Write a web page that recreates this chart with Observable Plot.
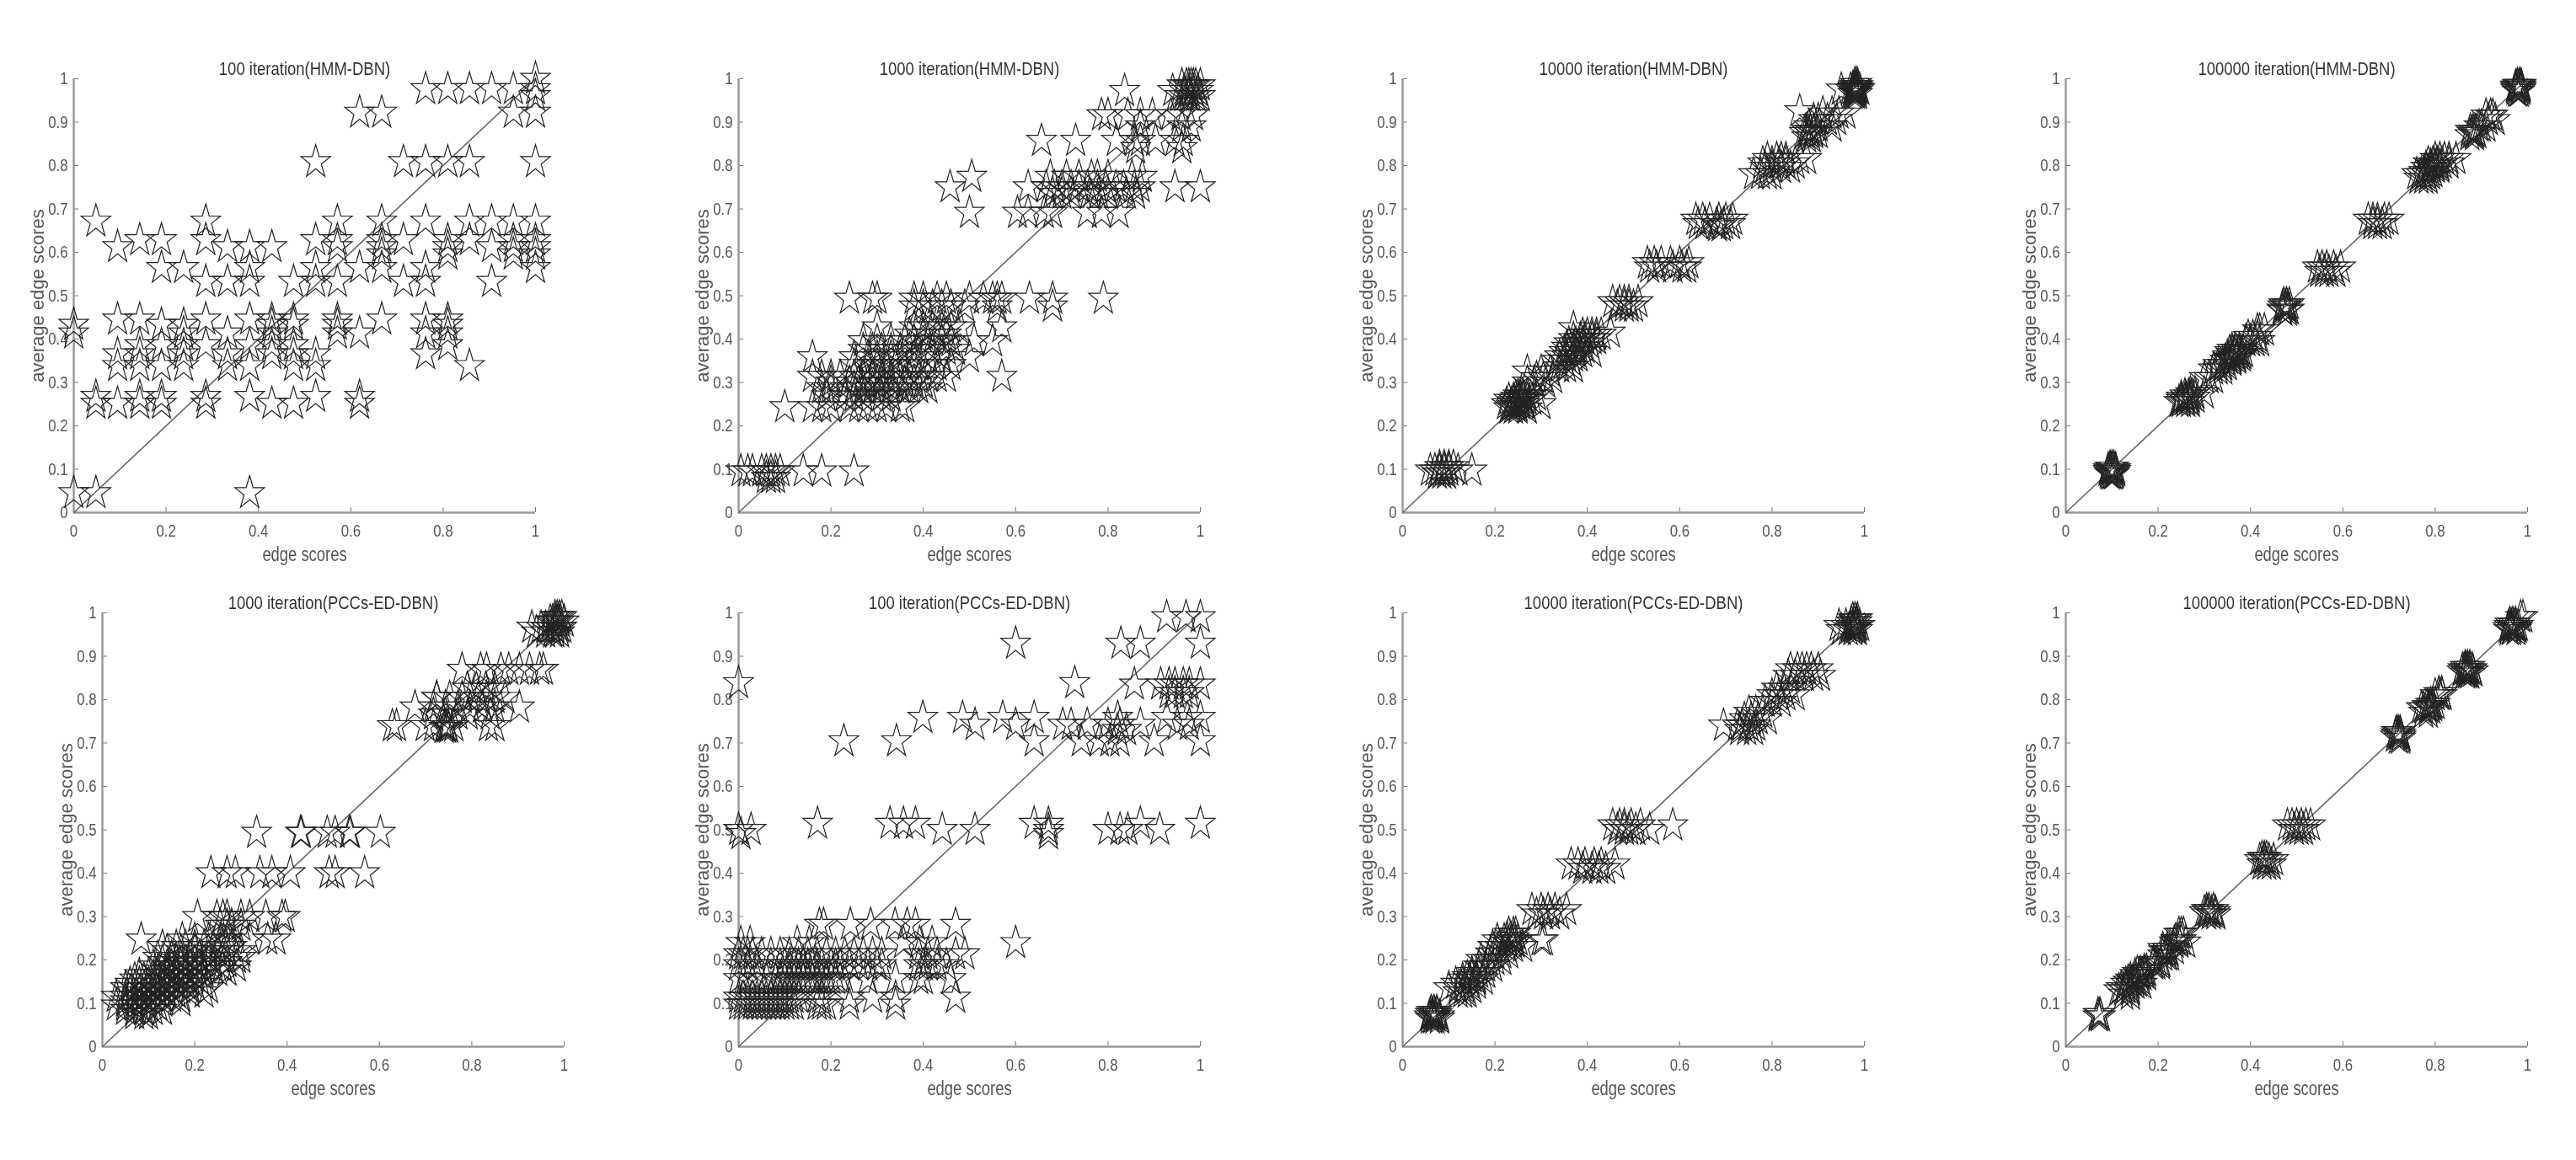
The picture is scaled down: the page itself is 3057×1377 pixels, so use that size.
<!DOCTYPE html>
<html>
<head>
<meta charset="utf-8">
<script src="https://cdn.jsdelivr.net/npm/d3@7"></script>
<script src="https://cdn.jsdelivr.net/npm/@observablehq/plot@0.6"></script>
<style>
html,body{margin:0;padding:0;background:#fff;}
#page{position:relative;width:3057px;height:1377px;overflow:hidden;}
#page svg{position:absolute;overflow:visible;filter:blur(0.7px);}
</style>
</head>
<body>
<div id="page"></div>
<script>
const titles = [
  "100 iteration(HMM-DBN)","1000 iteration(HMM-DBN)","10000 iteration(HMM-DBN)","100000 iteration(HMM-DBN)",
  "1000 iteration(PCCs-ED-DBN)","100 iteration(PCCs-ED-DBN)","10000 iteration(PCCs-ED-DBN)","100000 iteration(PCCs-ED-DBN)"
];
const xTicks = [0,0.2,0.4,0.6,0.8,1];
const yTicks = [0,0.1,0.2,0.3,0.4,0.5,0.6,0.7,0.8,0.9,1];
const xLabel = "edge scores";
const yLabel = "average edge scores";

// each row: y value, then the x values of the stars on that row
const hmm100 = [
 [1.0,1],[.976,.762,.81,.857,.905,.952,1],[.96,1],[.922,.619,.667,.952,1],
 [.808,.524,.714,.762,.81,.857,1],[.671,.048,.286,.571,.667,.762,.857,.905,.952,1],
 [.628,.143,.19,.286,.524,.571,.667,.714,.81,.857,.952,1],[.612,.095,.333,.381,.429,.571,.667,.81,.905,.952,1],
 [.595,.667,.81,.952,1],[.564,.19,.238,.381,.524,.619,.667,.762,1],
 [.532,.286,.333,.381,.476,.524,.571,.714,.762,.905],
 [.445,.095,.143,.286,.381,.429,.476,.571,.667,.762,.81],[.433,0,.19,.238,.429,.476,.571,.81],
 [.413,0,.238,.333,.429,.571,.619,.762,.81],[.386,.143,.19,.238,.286,.381,.429,.476,.81],
 [.365,.095,.143,.238,.333,.429,.476,.524,.762],[.338,.095,.143,.19,.238,.333,.381,.476,.524,.857],
 [.267,.048,.143,.19,.286,.381,.524,.619],[.251,.048,.095,.143,.19,.286,.429,.476,.619],
 [.045,0,.048,.381]
];
const hmm1000 = [
 [.985,.96,.97,.975,.98,.985,.99,1],[.972,.836,.94,.965,.975,.985,.995],[.96,.955,.965,.975,.98,.99,1],
 [.916,.786,.8,.843,.87,.896,.936,.958,.985],[.89,.87,.96,.98],[.857,.656,.73,.818,.857,.87,.903,.945,.963],[.84,.86,.96],
 [.774,.505,.675,.71,.737,.764,.777,.8,.852,.874],[.75,.458,.627,.666,.684,.7,.72,.737,.755,.777,.795,.817,.834,.857,.87,.945,1],
 [.735,.68,.7,.72,.76,.78,.8,.84,.86],[.691,.5,.604,.627,.662,.68,.755,.786,.824],
 [.493,.24,.29,.3,.38,.4,.43,.45,.5,.53,.55,.56,.57,.63,.68,.79],[.475,.38,.4,.42,.44,.46,.49,.56,.68],
 [.427,.3,.38,.4,.42,.44,.46,.48,.57],[.41,.37,.4,.43,.45],[.395,.27,.3,.33,.36,.38,.41,.44,.46,.51,.55],
 [.375,.27,.29,.31,.33,.35,.37,.39,.42,.45,.47],[.358,.16,.25,.28,.3,.33,.35,.38,.41,.44,.5],[.34,.25,.28,.3,.32,.34,.37,.39,.43,.46],
 [.313,.16,.18,.2,.22,.25,.27,.29,.31,.33,.35,.37,.39,.41,.43,.45,.57],[.3,.2,.24,.26,.28,.3,.31,.33,.36,.38,.4],
 [.287,.18,.2,.25,.27,.29,.31,.33,.35,.37,.39,.41],[.243,.1,.16,.18,.2,.24,.26,.28,.3,.32,.35,.36],
 [.268,.19,.23,.25,.27,.31,.33],[.095,.005,.02,.03,.05,.06,.07,.08,.09,.14,.18,.25],[.08,.06,.07,.08]
];
const hmm10000 = [
 [.988,.98,.984],[.983,.978,.982,.986],[.978,.975,.979,.983,.987],[.975,.95,.97,.975,.98,.985,.99],[.97,.976,.98,.984],[.965,.975,.98,.985],
 [.925,.86],[.92,.91,.93,.945,.96],[.905,.89,.9,.92,.94],[.89,.88,.9,.93],[.88,.875,.883,.89],[.875,.87,.88,.89,.9],[.865,.875,.885],
 [.815,.79,.81,.82,.83,.86,.875],[.805,.78,.8,.815,.83,.85],[.795,.785,.8,.82,.84],[.78,.76,.775,.79,.8],
 [.675,.635,.65,.665,.685,.7,.715],[.665,.64,.655,.68,.695,.71],[.66,.682,.69],[.575,.53,.545,.56,.58,.6,.62],[.565,.535,.55,.585,.605,.615],
 [.485,.455,.47,.48,.49,.51],[.475,.465,.48,.49,.5],[.425,.37],[.415,.45],[.41,.39,.4,.41,.42,.43],[.4,.37,.385,.395,.41,.42],
 [.39,.36,.375,.39,.405],[.38,.355,.37,.38,.395],[.37,.35,.36,.375,.39,.41],[.36,.34,.355,.37,.38],[.35,.335,.35,.365],[.335,.34,.355,.37],
 [.325,.27,.3,.32],[.31,.29,.305,.325],[.3,.27,.285,.31],[.27,.25,.26,.27,.29],[.265,.245,.255,.262],[.26,.23,.24,.25,.26,.27,.28],[.255,.24,.248,.256],[.25,.225,.235,.245,.255,.265,.3],[.245,.235,.245,.25],[.24,.23,.24,.25,.27],
 [.105,.08,.09,.1,.11],[.097,.06,.07,.08,.09,.1,.12,.15],[.09,.075,.085,.095]
];
const hmm100000 = [
 [.986,.978,.982,.986],[.982,.974,.978,.982,.986],[.978,.974,.986],[.974,.975,.985],[.97,.978,.982],
 [.915,.91,.92,.925],[.905,.915,.93],[.89,.895,.9,.91],[.88,.876,.882,.888],[.875,.88,.885,.89],[.87,.875,.885],
 [.815,.8,.81,.82,.83,.845],[.805,.785,.795,.805,.815,.83],[.8,.79,.8,.81],[.795,.78,.79,.8,.81],[.785,.775,.785,.795],[.78,.76,.77,.78,.79],[.77,.765,.775,.785],
 [.675,.655,.665,.675,.69,.7],[.665,.665,.675,.685],[.565,.545,.555,.565,.58,.595],[.555,.55,.56,.57,.585],
 [.48,.472,.478,.484],[.475,.47,.475,.48],[.468,.468,.484],[.465,.47,.48],[.42,.415,.42,.43],[.405,.395,.405,.415],[.395,.39,.4,.41,.42],
 [.375,.36,.368,.376],[.37,.355,.365,.375,.385],[.365,.358,.366,.374,.382],[.36,.35,.36,.37,.38],[.355,.352,.36,.37],[.35,.345,.36],[.34,.33,.34,.35],[.33,.32,.33,.34],[.31,.3,.31,.32],
 [.275,.27,.28,.3],[.27,.258,.266,.274],[.265,.25,.26,.27,.28],[.26,.25,.258,.266],[.255,.245,.25,.26,.27],
 [.104,.096,.1,.104],[.1,.092,.096,.1,.104,.108],[.096,.092,.108],[.092,.094,.106],[.088,.096,.1,.104]
];
const pcc1000 = [
 [.99,.98,.985,.99,.995],[.98,.97,.975,.98,.985,.99,1],[.966,.93,.95,.96,.97,.98,.99,.995],[.955,.94,.96,.975,.98,.99],
 [.869,.779,.819,.832,.863,.88,.903,.925,.947,.955],[.825,.79,.81,.83,.85],
 [.804,.724,.724,.752,.779,.796,.814,.832,.85,.872],[.782,.677,.717,.743,.77,.796,.823,.85,.903],[.766,.717,.743,.77,.792,.84],
 [.739,.628,.637,.699,.717,.743,.748,.761,.836,.85],[.735,.74,.745,.75],
 [.493,.334,.429,.431,.487,.504,.535,.537,.602],[.4,.235,.27,.288,.341,.367,.407,.491,.504,.568],
 [.299,.206,.248,.261,.27,.3,.319,.354,.389,.396],[.279,.255,.27,.28,.3],[.247,.084,.173,.2,.23,.257,.27,.319,.358,.376],
 [.23,.13,.16,.18,.2,.22,.24,.26,.28],[.22,.14,.17,.2,.23,.25,.27,.3],[.205,.12,.15,.17,.19,.21,.23,.26,.29,.3],
 [.195,.13,.16,.18,.2,.22,.24,.27],[.185,.11,.14,.15,.17,.19,.21,.24,.26,.29],[.175,.12,.14,.16,.18,.2,.22,.25,.27],
 [.165,.08,.1,.12,.14,.16,.18,.2,.22],[.155,.07,.09,.11,.13,.15,.17,.19,.21],[.145,.06,.08,.1,.12,.14,.16,.18,.2,.22],
 [.135,.05,.07,.09,.11,.13,.15,.17,.19,.23],[.125,.06,.08,.1,.12,.14,.16,.19,.22],[.115,.03,.05,.07,.09,.11,.13,.15,.17],
 [.105,.05,.07,.09,.11,.13,.17],[.095,.03,.05,.07,.08,.1,.12],[.085,.05,.07,.09,.11,.13],[.075,.07,.09,.1]
];
const pcc100 = [
 [.99,.927,.969,1],[.929,.6,.828,.87,1],[.838,0,.728],[.835,.857,.914,.932,.945,.963,.976,1],[.815,.932,.945,.963,.976],
 [.758,.399,.485,.572,.64,.821,.927,.972,1],[.742,.512,.6,.702,.72,.755,.8,.826,.87,.95,.976],[.73,.82,.84],
 [.704,.228,.342,.64,.742,.781,.804,.826,.9,1],[.514,.171,.328,.357,.383,.64,.671,.87,1],[.5,0,.027,.441,.512,.671,.8,.826,.843,.912],[.49,.005,.671],
 [.281,.175,.184,.242,.286,.339,.365,.383,.47],[.239,.005,.025,.127,.153,.357,.392,.419,.6],
 [.213,0,.01,.02,.03,.05,.07,.09,.11,.13,.15,.17,.19,.21,.23,.25,.27,.29,.31,.39,.41,.43,.47,.49],
 [.188,0,.02,.04,.07,.09,.1,.11,.12,.13,.14,.15,.16,.17,.18,.2,.21,.22,.24,.26,.28,.3,.31,.39,.4,.41,.43,.45],
 [.156,0,.02,.04,.06,.08,.09,.1,.11,.12,.13,.14,.15,.16,.17,.18,.19,.2,.21,.22,.28,.34,.39,.4,.46],
 [.113,0,.01,.02,.03,.04,.05,.06,.07,.08,.09,.1,.11,.12,.13,.17,.18,.24,.29,.34,.47],
 [.097,0,.01,.02,.03,.04,.05,.06,.07,.08,.09,.1,.11,.12,.17,.18,.19,.24,.34]
];
const pcc10000 = [
 [.985,.975,.98,.985],[.978,.972,.978,.984],[.97,.945,.96,.97,.975,.98,.985,.99],[.965,.97,.976,.982],[.96,.95,.965,.975,.985],
 [.87,.84,.855,.865,.875,.885,.9],[.855,.835,.85,.87,.89,.905],[.825,.81,.825,.84],[.81,.8,.815,.83,.85],[.795,.785,.8,.82],
 [.77,.75,.765,.78],[.755,.74,.755,.77,.79],[.74,.695,.725,.735,.75,.765],[.73,.73,.745,.76],
 [.51,.455,.47,.48,.495,.515,.585],[.5,.465,.48,.49,.505,.535],[.42,.365,.38,.395,.415,.43,.46],[.41,.39,.41,.425,.44],
 [.315,.28,.3,.315,.33,.355],[.305,.29,.305,.32,.34],[.26,.23,.24,.245],[.25,.226,.234,.242],[.245,.205,.22,.24,.25,.3,.305],[.24,.228,.236,.244],[.23,.195,.21,.225,.24,.26],
 [.215,.19,.2,.215,.23],[.2,.17,.185,.2,.215],[.185,.165,.18,.195],[.17,.15,.165,.18],[.16,.14,.15,.16],[.155,.13,.145,.16,.175],[.145,.115,.13,.145,.16],
 [.135,.1,.12,.135,.15],[.125,.12,.13,.14],[.08,.062,.068,.074],[.075,.06,.065,.07,.075],[.07,.058,.066,.072,.08],[.065,.06,.065,.07,.08]
];
const pcc100000 = [
 [.99,.985,.99],[.975,.962,.968,.974],[.97,.96,.965,.97,.975,.98],[.965,.958,.966,.978],[.96,.96,.965,.975],
 [.875,.865,.87,.875],[.87,.86,.865,.87,.875,.88],[.865,.858,.866,.872,.882],[.86,.865,.87,.875],
 [.815,.808,.814],[.81,.8,.81,.815],[.79,.79,.795,.8],[.785,.782,.788,.794],[.78,.77,.775,.785,.79],[.77,.775,.785],
 [.725,.716,.72,.724],[.72,.715,.72,.725],[.715,.714,.726],[.71,.72,.725],
 [.51,.48,.49,.5,.51,.52,.53],[.5,.495,.505,.515],[.435,.425,.43,.435],[.43,.42,.43,.44,.45],[.42,.425,.435,.445],
 [.315,.305,.31,.32],[.31,.3,.308,.316,.324],[.305,.305,.315,.325],
 [.26,.245,.25,.255],[.245,.238,.244,.25],[.24,.235,.245,.26],[.225,.21,.22,.235],[.22,.212,.218,.224],[.21,.21,.22,.225],[.195,.19,.198,.206],[.19,.19,.195,.205],[.175,.17,.175],[.17,.155,.162,.17],[.165,.15,.16,.165,.175],
 [.155,.14,.15,.16],[.15,.135,.145,.155],[.145,.13,.14,.15,.165],[.135,.12,.13,.14],[.13,.115,.125,.14],[.12,.125,.14],[.075,.07,.074],[.07,.07,.075]
];
const panels = [hmm100,hmm1000,hmm10000,hmm100000,pcc1000,pcc100,pcc10000,pcc100000];

const plotW = 548, plotH = 515, mL = 100, mR = 60, mT = 50, mB = 80;
const lefts = [87,875.5,1664,2451,121,875.5,1664,2451];
const tops = [93,93,93,93,727,727,727,727];
const ink = "#555";
const font = "'Liberation Sans',Arial,sans-serif";

// pentagram stretched vertically as in the picture
const star = {draw(ctx,size){
  const k = 1.13;
  d3.symbolStar.draw({moveTo:(x,y)=>ctx.moveTo(x,y*k),lineTo:(x,y)=>ctx.lineTo(x,y*k),closePath:()=>ctx.closePath()},size);
}};
const condense = (sel,f)=>sel.each(function(){
  const len = this.getComputedTextLength();
  this.setAttribute("textLength",len*f);
  this.setAttribute("lengthAdjust","spacingAndGlyphs");
});

const page = document.getElementById("page");
panels.forEach((rows,i)=>{
  const pts = rows.flatMap(([y,...xs])=>xs.map(x=>({x,y})));
  const svg = Plot.plot({
    width: plotW+mL+mR, height: plotH+mT+mB,
    marginLeft: mL, marginRight: mR, marginTop: mT, marginBottom: mB,
    style:{background:"transparent",overflow:"visible"},
    x:{domain:[0,1],label:null},
    y:{domain:[0,1],label:null},
    marks:[
      Plot.axisX({ticks:xTicks,tickFormat:d=>String(d),tickSize:-6,tickPadding:20,stroke:"#777",fill:"#555",fontSize:21,fontFamily:font,label:null,className:"tx"}),
      Plot.axisY({ticks:yTicks,tickFormat:d=>String(d),tickSize:-6,tickPadding:13,stroke:"#777",fill:"#555",fontSize:21,fontFamily:font,label:null,className:"tx"}),
      Plot.ruleX([0],{stroke:"#999",strokeWidth:2.5}),
      Plot.ruleY([0],{stroke:"#999",strokeWidth:2.5}),
      Plot.line([{x:0,y:0},{x:1,y:1}],{x:"x",y:"y",stroke:"#666",strokeWidth:1.6}),
      Plot.dot(pts,{x:"x",y:"y",symbol:()=>star,r:11,stroke:"#222",strokeWidth:1.2,fill:"none"}),
      Plot.text([titles[i]],{frameAnchor:"top",lineAnchor:"middle",dy:-12,fontSize:22,fontFamily:font,fill:"#333",className:"tt"}),
      Plot.text([xLabel],{frameAnchor:"bottom",lineAnchor:"middle",dy:50,fontSize:23,fontFamily:font,fill:ink,className:"tl"}),
      Plot.text([yLabel],{frameAnchor:"left",textAnchor:"middle",lineAnchor:"middle",dx:-43,rotate:-90,fontSize:22,fontFamily:font,fill:ink})
    ]
  });
  svg.style.left = (lefts[i]-mL)+"px";
  svg.style.top = (tops[i]-mT)+"px";
  page.appendChild(svg);
  const s = d3.select(svg);
  condense(s.selectAll(".tt text"),0.84);
  condense(s.selectAll(".tl text"),0.8);
  condense(s.selectAll(".tx text"),0.8);
});
</script>
</body>
</html>
